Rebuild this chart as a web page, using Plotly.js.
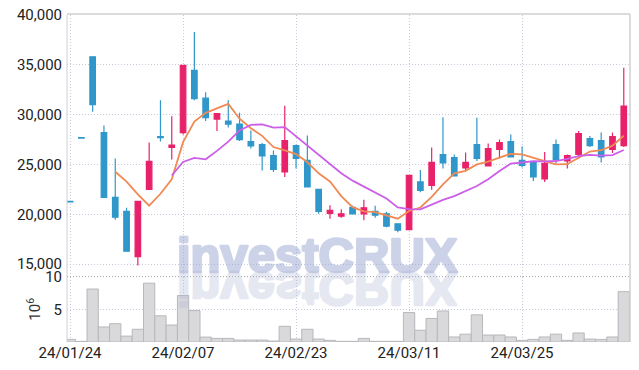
<!DOCTYPE html>
<html>
<head>
<meta charset="utf-8">
<script src="https://cdn.plot.ly/plotly-3.0.1.min.js"></script>
<style>html,body{margin:0;padding:0;background:#fff;}#chart{width:639px;height:370px;}</style>
</head>
<body>
<div id="chart"></div>
<script>
const dates = ["24/01/24","24/01/25","24/01/26","24/01/29","24/01/30","24/01/31","24/02/01","24/02/02","24/02/05","24/02/06",
"24/02/07","24/02/08","24/02/13","24/02/14","24/02/15","24/02/16","24/02/19","24/02/20","24/02/21","24/02/22",
"24/02/23","24/02/26","24/02/27","24/02/28","24/02/29","24/03/04","24/03/05","24/03/06","24/03/07","24/03/08",
"24/03/11","24/03/12","24/03/13","24/03/14","24/03/15","24/03/18","24/03/19","24/03/20","24/03/21","24/03/22",
"24/03/25","24/03/26","24/03/27","24/03/28","24/03/29","24/04/01","24/04/02","24/04/03","24/04/04","24/04/05"];

const openP = [21300,27700,35800,28200,21700,20300,15750,22500,27800,26700,
28200,34450,31650,29550,29350,29050,27300,27000,25900,24250,
26900,25400,22500,20100,19800,20700,20050,20300,20050,19050,
18450,23250,22900,26000,25700,24650,27000,24850,26500,27300,
25400,25250,23550,27000,25350,26000,27600,27400,26500,26900];
const highP = [21300,27700,35800,28900,25600,20650,21300,27200,31450,29850,
35000,38300,32250,30100,31450,30200,28400,27150,26400,30900,
27000,27900,22500,20900,20500,20850,21450,20850,20250,19100,
23950,24450,26700,29750,26000,26200,29700,27100,27500,28000,
26800,25250,26250,27500,26000,28350,27850,28200,28200,34700];
const lowP = [21250,27650,30300,21700,19450,16300,14850,22500,27300,25500,
28000,31450,29350,28350,28700,27350,26600,24400,24250,23750,
24600,22700,20050,19550,19650,20050,19400,19650,18700,18200,
18400,22200,22450,24600,23800,24400,25350,24800,25600,25700,
24700,23350,23250,25100,24600,25600,26750,25200,26150,26750];
const closeP = [21250,27650,31000,21700,19700,16300,21300,25300,27700,26950,
34950,31600,29700,30100,29050,27500,26850,25850,24500,27400,
25600,22750,20300,20400,20050,20050,20650,19900,18800,18400,
23900,22400,25200,25150,23850,25200,25600,26600,27200,25750,
24900,23750,25100,25500,25900,28100,26900,25750,27800,30850];

const ma5 = [null,null,null,null,24270,23270,22000,20860,22060,23510,
27240,29300,30180,30660,31080,29590,28640,27870,26750,26420,
26040,25220,24110,23290,21820,20710,20290,20210,19890,19560,
20330,20680,21740,23010,24100,24360,25000,25280,25690,26070,
26010,25640,25340,25000,25030,25670,26300,26430,26890,27880];
const ma10 = [null,null,null,null,null,null,null,null,null,23890,
25255,25650,25520,26360,27295,28415,28970,29025,28705,28750,
27815,26930,25990,25020,24120,23375,22755,22160,21590,20690,
20520,20485,20975,21450,21830,22345,22840,23510,24350,25085,
25185,25320,25310,25345,25550,25840,25970,25885,25945,26455];

// volume in millions of shares
const volume = [0.4,0.1,8.1,2.3,2.8,0.9,1.95,9.0,4.0,2.6,
7.1,4.8,0.75,0.55,0.55,0.3,0.3,0.3,0.15,2.4,
0.45,1.95,0.45,0.25,0.1,0.1,0.55,0.1,0.1,0.1,
4.5,1.8,3.6,4.75,0.77,1.2,4.15,1.07,1.07,0.77,
0.25,0.4,0.77,1.2,0.25,1.38,0.45,0.4,0.77,7.7];

const tickDates = ["24/01/24","24/02/07","24/02/23","24/03/11","24/03/25"];
const priceTicks = [15000,20000,25000,30000,35000,40000];
const priceTickText = ["15,000","20,000","25,000","30,000","35,000","40,000"];
const volTicks = [5,10];

const RED = '#e8226a', BLUE = '#2f97c9';
const tickFont = {family:"'Liberation Sans Narrow', 'Arial Narrow', Roboto, sans-serif", size:15, color:'#222'};
const GRID = '#c6cadc';
const DOT = '1px,2px';

const traces = [
  {type:'bar', x:dates, y:volume, xaxis:'x', yaxis:'y2',
   marker:{color:'#d9d9dc', line:{color:'#b8b8bc', width:1}}, hoverinfo:'skip'},
  {type:'candlestick', x:dates, open:openP, high:highP, low:lowP, close:closeP, xaxis:'x', yaxis:'y',
   increasing:{line:{color:RED, width:1.2}, fillcolor:RED},
   decreasing:{line:{color:BLUE, width:1.2}, fillcolor:BLUE},
   whiskerwidth:0, hoverinfo:'skip'},
  {type:'scatter', mode:'lines', x:dates, y:ma5, xaxis:'x', yaxis:'y',
   line:{color:'#f08a55', width:1.8}, hoverinfo:'skip'},
  {type:'scatter', mode:'lines', x:dates, y:ma10, xaxis:'x', yaxis:'y',
   line:{color:'#cc5ee8', width:1.8}, hoverinfo:'skip'}
];

const layout = {
  width:639, height:370,
  margin:{l:67, r:9, t:15, b:28},
  paper_bgcolor:'#fff', plot_bgcolor:'#fff',
  showlegend:false, bargap:0, boxgap:0.3,
  xaxis:{type:'category', categoryorder:'array', categoryarray:dates,
         range:[-0.27,49.55], anchor:'y2', rangeslider:{visible:false},
         tickmode:'array', tickvals:tickDates, ticktext:tickDates,
         showgrid:true, gridcolor:GRID, griddash:DOT, gridwidth:1,
         ticks:'', tickfont:tickFont, showline:false, zeroline:false},
  yaxis:{domain:[0.2,1], range:[13745,40000], tickmode:'array', tickvals:priceTicks, ticktext:priceTickText,
         showgrid:true, gridcolor:GRID, griddash:DOT, gridwidth:1,
         ticks:'', tickfont:tickFont, zeroline:false, ticklabelstandoff:4},
  yaxis2:{domain:[0,0.2], range:[0,10], tickmode:'array', tickvals:volTicks,
         showgrid:true, gridcolor:GRID, griddash:DOT, gridwidth:1,
         ticks:'', tickfont:tickFont, zeroline:false, ticklabelstandoff:4,
         title:{text:'10<sup>6</sup>', font:{family:tickFont.family, size:15, color:'#333'}, standoff:0}},
  shapes:[
    {type:'line', xref:'paper', yref:'paper', x0:0, x1:0, y0:0, y1:1, line:{color:'#d0d0d0', width:1}},
    {type:'line', xref:'paper', yref:'paper', x0:0, x1:1, y0:1.003, y1:1.003, line:{color:'#cfcfcf', width:1.5}},
    {type:'line', xref:'paper', yref:'paper', x0:1, x1:1, y0:0, y1:1.003, line:{color:'#cfcfcf', width:1.5}},
    {type:'line', xref:'paper', yref:'paper', x0:0, x1:1, y0:0.2, y1:0.2, line:{color:'#a4a4ac', width:1, dash:'1px,2px'}}
  ],
  annotations:[
    {xref:'paper', yref:'paper', x:0.445, y:0.267, xanchor:'center', yanchor:'middle', showarrow:false,
     text:'<b>investCRUX</b>', font:{family:'Liberation Sans, Arial, sans-serif', size:49, weight:700, color:'rgb(155,167,209)'}},
    {xref:'paper', yref:'paper', x:0.445, y:0.161, xanchor:'center', yanchor:'middle', showarrow:false,
     text:'<b>investCRUX</b>', font:{family:'Liberation Sans, Arial, sans-serif', size:49, weight:700, color:'rgb(172,182,212)'}}
  ]
};

Plotly.newPlot('chart', traces, layout, {staticPlot:true, displayModeBar:false}).then(function(gd){
  const anns = gd.querySelectorAll('.annotation');
  const styles = [{c:'rgb(155,167,209)', o:0.5}, {c:'rgb(172,182,212)', o:0.3}];
  anns.forEach(function(a, i){
    const t = a.querySelector('text');
    if (!t || i > 1) return;
    t.style.stroke = styles[i].c;
    t.style.strokeWidth = '2.6px';
    t.style.strokeLinejoin = 'round';
    t.setAttribute('opacity', styles[i].o);
    if (i === 1) {
      const b = t.getBBox();
      const cy = b.y + b.height/2;
      t.setAttribute('transform', 'translate(0,' + (2*cy) + ') scale(1,-1)');
    }
  });
});
</script>
</body>
</html>
